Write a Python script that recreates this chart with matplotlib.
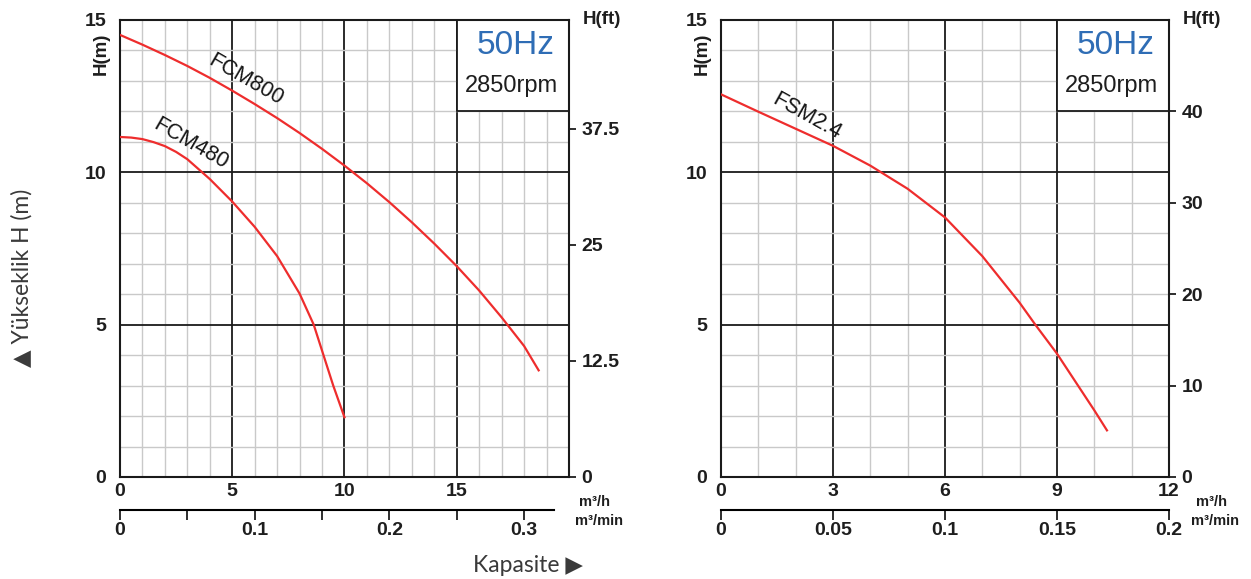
import numpy as np
import matplotlib.pyplot as plt
from matplotlib.patches import Rectangle

plt.rcParams['font.family'] = ['Liberation Sans', 'DejaVu Sans']

# pump curves, flow in m3/h, head in m
fcm800_q = [0, 1, 2, 3, 4, 5, 6, 7, 8, 9, 10, 11, 12, 13, 14, 15, 16, 17, 18, 18.65]
fcm800_h = [14.51, 14.19, 13.85, 13.49, 13.1, 12.68, 12.24, 11.78, 11.29, 10.77,
            10.22, 9.64, 9.02, 8.36, 7.66, 6.92, 6.12, 5.24, 4.3, 3.5]

fcm480_q = [0, 0.5, 1, 1.5, 2, 2.5, 3, 4, 5, 6, 7, 8, 8.63, 9, 9.5, 10]
fcm480_h = [11.16, 11.14, 11.09, 10.99, 10.86, 10.67, 10.43, 9.78, 9.04, 8.21, 7.25,
            6.02, 5.0, 4.15, 3.0, 1.96]

fsm24_q = [0, 1, 2, 3, 4, 5, 6, 7, 8, 8.42, 9, 10, 10.34]
fsm24_h = [12.56, 11.99, 11.43, 10.87, 10.22, 9.46, 8.52, 7.25, 5.72, 5.0, 4.05, 2.19, 1.53]

# axis ticks
left_q_ticks = [0, 5, 10, 15]
right_q_ticks = [0, 3, 6, 9, 12]
h_ticks = [0, 5, 10, 15]
left_ft_ticks = [0, 12.5, 25, 37.5]
left_ft_labels = ['0', '12.5', '25', '37.5']
right_ft_ticks = [0, 10, 20, 30, 40]
right_ft_labels = ['0', '10', '20', '30', '40']
left_min_ticks = [0, 0.05, 0.1, 0.15, 0.2, 0.25, 0.3]
left_min_labels = ['0', '', '0.1', '', '0.2', '', '0.3']
right_min_ticks = [0, 0.05, 0.1, 0.15, 0.2]
right_min_labels = ['0', '0.05', '0.1', '0.15', '0.2']

RED = '#ee2d2d'
BLUE = '#2f6db5'
TXT = '#1e1e1e'


def draw_chart(ax, q_max, q_ticks, box_w, hz_x, rpm_x, m_per_ft, ft_ticks, ft_labels,
               min_ticks, min_labels, min_end, unit_x):
    ax.set_xlim(0, q_max)
    ax.set_ylim(0, 15)
    ax.set_xticks(q_ticks)
    ax.set_yticks(h_ticks)
    ax.set_xticks(np.arange(0, q_max + 1, 1), minor=True)
    ax.set_yticks(np.arange(0, 16, 1), minor=True)
    ax.set_axisbelow(True)
    ax.grid(which='minor', color='#c9c9c9', lw=1.0)
    ax.grid(which='major', color='#1a1a1a', lw=1.3)
    ax.tick_params(which='both', length=0, labelsize=14, colors=TXT)
    ax.tick_params(axis='x', pad=4)
    ax.tick_params(axis='y', pad=10)
    for lab in ax.get_xticklabels() + ax.get_yticklabels():
        lab.set_fontweight('bold')
    for sp in ax.spines.values():
        sp.set_linewidth(1.5)
        sp.set_color('#1a1a1a')

    # 50Hz box in the top right corner
    ax.add_patch(Rectangle((q_max - box_w, 12), box_w, 3, facecolor='white',
                           edgecolor='#1a1a1a', lw=1.3, zorder=1.5))
    ax.text(hz_x, 14.15, '50Hz', color=BLUE, fontsize=24,
            ha='center', va='center')
    ax.text(rpm_x, 12.83, '2850rpm', color=TXT, fontsize=17,
            ha='center', va='center')

    # head in ft on the right
    ft = ax.secondary_yaxis('right', functions=(lambda m, k=m_per_ft: m / k,
                                                lambda f, k=m_per_ft: f * k))
    ft.set_yticks(ft_ticks)
    ft.set_yticklabels(ft_labels, fontweight='bold')
    ft.tick_params(length=5, width=1.3, labelsize=14, pad=4, colors=TXT)
    ft.spines['right'].set_visible(False)

    # flow in m3/min below
    mn = ax.secondary_xaxis(-0.072, functions=(lambda q: q / 60, lambda m: m * 60))
    mn.set_xticks(min_ticks)
    mn.set_xticklabels(min_labels, fontweight='bold')
    mn.tick_params(length=7, width=1.3, labelsize=14, pad=2, colors=TXT)
    mn.spines['bottom'].set_linewidth(1.5)
    mn.spines['bottom'].set_bounds(0, min_end)

    ax.text(-0.042, 0.925, 'H(m)', transform=ax.transAxes, rotation=90,
            fontsize=13.5, fontweight='bold', color=TXT, ha='center', va='center')
    ax.text(1.03, 1.0, 'H(ft)', transform=ax.transAxes, fontsize=13.5,
            fontweight='bold', color=TXT, ha='left', va='center')
    ax.text(unit_x, -0.055, 'm³/h', transform=ax.transAxes, fontsize=10.5,
            fontweight='bold', color=TXT, ha='center', va='center')
    ax.text(unit_x + 0.008, -0.096, 'm³/min', transform=ax.transAxes, fontsize=10.5,
            fontweight='bold', color=TXT, ha='center', va='center')


fig = plt.figure(figsize=(12.51, 5.79), dpi=100)
ax1 = fig.add_axes([0.0959, 0.1762, 0.3589, 0.7893])
ax2 = fig.add_axes([0.5763, 0.1762, 0.3581, 0.7893])

draw_chart(ax1, 20, left_q_ticks, 5, 17.64, 17.42, 0.3048, left_ft_ticks, left_ft_labels,
           left_min_ticks, left_min_labels, 0.322, 1.058)
draw_chart(ax2, 12, right_q_ticks, 3, 10.58, 10.45, 0.3, right_ft_ticks, right_ft_labels,
           right_min_ticks, right_min_labels, 0.2, 1.094)

ax1.plot(fcm800_q, fcm800_h, color=RED, lw=1.6, zorder=3)
ax1.plot(fcm480_q, fcm480_h, color=RED, lw=1.6, zorder=3)
ax2.plot(fsm24_q, fsm24_h, color=RED, lw=1.6, zorder=3)

ax1.text(5.6, 13.03, 'FCM800', rotation=-30, fontsize=15.5, color='#151515',
         ha='center', va='center', rotation_mode='anchor')
ax1.text(3.15, 10.95, 'FCM480', rotation=-30, fontsize=15.5, color='#151515',
         ha='center', va='center', rotation_mode='anchor')
ax2.text(2.3, 11.82, 'FSM2.4', rotation=-29, fontsize=15.5, color='#151515',
         ha='center', va='center', rotation_mode='anchor')

side_font = ['Lato', 'DejaVu Sans']
fig.text(0.0176, 0.52, '▲ Yükseklik H (m)', rotation=90, fontsize=16.5,
         family=side_font, color='#3a3a3a', ha='center', va='center')
fig.text(0.422, 0.024, 'Kapasite ▶', fontsize=16.5,
         family=side_font, color='#3a3a3a', ha='center', va='center')

fig.savefig('out.png', dpi=100)
